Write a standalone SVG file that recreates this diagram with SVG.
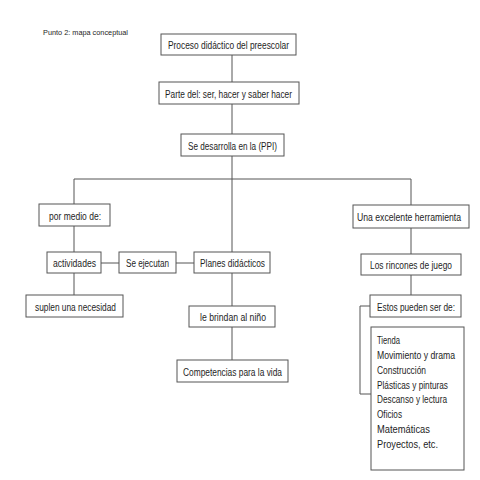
<svg xmlns="http://www.w3.org/2000/svg" width="480" height="480" viewBox="0 0 480 480">
<style>
.b{fill:#fff;stroke:#555;stroke-width:1}
.c{fill:none;stroke:#555;stroke-width:1}
text{font-family:"Liberation Sans",Arial,sans-serif;font-size:10px;fill:#1e1e1e}
.t{font-size:8px}
</style>
<rect width="480" height="480" fill="#fff"/>
<text class="t" x="43" y="35" textLength="85" lengthAdjust="spacingAndGlyphs">Punto 2: mapa conceptual</text>
<g id="connectors">
<path class="c" d="M232 55V82M232 104V134M232 156V252M74 179H411M74 179V204M411 179V205M74 226V252M101 263H119M176 263H194M74 273V295M232 273V306M232 327V360M411 228V254M411 275V295M370 306H360V394H371"/>
</g>
<g id="n1"><rect class="b" x="161" y="34" width="135" height="21"/><text x="168" y="49" textLength="121" lengthAdjust="spacingAndGlyphs">Proceso didáctico del preescolar</text></g>
<g id="n2"><rect class="b" x="159" y="82" width="140" height="22"/><text x="165" y="97.5" textLength="127" lengthAdjust="spacingAndGlyphs">Parte del: ser, hacer y saber hacer</text></g>
<g id="n3"><rect class="b" x="181" y="134" width="103" height="22"/><text x="188" y="149.5" textLength="89" lengthAdjust="spacingAndGlyphs">Se desarrolla en la (PPI)</text></g>
<g id="n4"><rect class="b" x="39" y="204" width="71" height="22"/><text x="49" y="219.5" textLength="52" lengthAdjust="spacingAndGlyphs">por medio de:</text></g>
<g id="n5"><rect class="b" x="353" y="205" width="116" height="23"/><text x="357" y="220.5" textLength="104" lengthAdjust="spacingAndGlyphs">Una excelente herramienta</text></g>
<g id="n6"><rect class="b" x="47" y="252" width="54" height="21"/><text x="53" y="267" textLength="43" lengthAdjust="spacingAndGlyphs">actividades</text></g>
<g id="n7"><rect class="b" x="119" y="252" width="57" height="21"/><text x="126" y="267" textLength="43" lengthAdjust="spacingAndGlyphs">Se ejecutan</text></g>
<g id="n8"><rect class="b" x="194" y="252" width="76" height="21"/><text x="200" y="267" textLength="65" lengthAdjust="spacingAndGlyphs">Planes didácticos</text></g>
<g id="n9"><rect class="b" x="361" y="254" width="100" height="21"/><text x="370" y="269" textLength="82" lengthAdjust="spacingAndGlyphs">Los rincones de juego</text></g>
<g id="n10"><rect class="b" x="26" y="295" width="97" height="22"/><text x="35" y="310.5" textLength="81" lengthAdjust="spacingAndGlyphs">suplen una necesidad</text></g>
<g id="n11"><rect class="b" x="370" y="295" width="91" height="22"/><text x="377" y="310.5" textLength="78" lengthAdjust="spacingAndGlyphs">Estos pueden ser de:</text></g>
<g id="n12"><rect class="b" x="189" y="306" width="86" height="21"/><text x="200" y="321" textLength="66" lengthAdjust="spacingAndGlyphs">le brindan al niño</text></g>
<g id="n13"><rect class="b" x="177" y="360" width="111" height="22"/><text x="183" y="375.5" textLength="99" lengthAdjust="spacingAndGlyphs">Competencias para la vida</text></g>
<g id="n14"><rect class="b" x="371" y="327" width="93" height="143"/>
<text x="377" y="343.5" textLength="23" lengthAdjust="spacingAndGlyphs">Tienda</text>
<text x="377" y="358.5" textLength="78" lengthAdjust="spacingAndGlyphs">Movimiento y drama</text>
<text x="377" y="373.5" textLength="49" lengthAdjust="spacingAndGlyphs">Construcción</text>
<text x="377" y="388.5" textLength="71" lengthAdjust="spacingAndGlyphs">Plásticas y pinturas</text>
<text x="377" y="403" textLength="70" lengthAdjust="spacingAndGlyphs">Descanso y lectura</text>
<text x="377" y="417.5" textLength="25" lengthAdjust="spacingAndGlyphs">Oficios</text>
<text x="377" y="432.5" textLength="53" lengthAdjust="spacingAndGlyphs">Matemáticas</text>
<text x="377" y="447.5" textLength="61" lengthAdjust="spacingAndGlyphs">Proyectos, etc.</text>
</g>
</svg>
